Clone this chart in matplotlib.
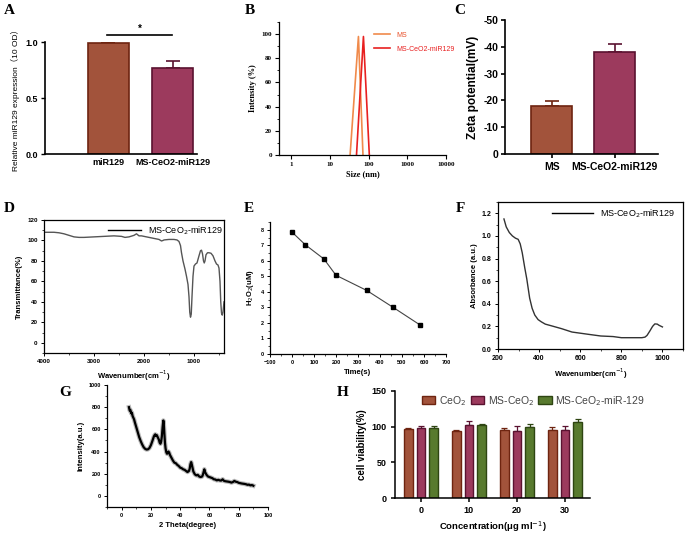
"""
Multi-panel characterization figure (A-H).
"""
import numpy as np
import matplotlib
matplotlib.use("Agg")
import matplotlib.pyplot as plt
from matplotlib.ticker import AutoMinorLocator, FuncFormatter, LogLocator, NullFormatter

SANS = "Liberation Sans"
SERIF = "Liberation Serif"
plt.rcParams["font.family"] = [SANS, "Noto Sans CJK SC", "DejaVu Sans"]

# ---------------- data ----------------
# A: relative miR129 expression
a_groups = ["miR129", "MS-CeO2-miR129"]
a_vals = [0.99, 0.765]
a_errs = [0.008, 0.068]

# B: DLS size distribution
b_ms_size = [33.5, 55, 72]
b_ms_int = [0, 98, 0]
b_mir_size = [49, 74, 105]
b_mir_int = [0, 98, 0]

# C: zeta potential (magnitude, labels shown negative)
c_groups = ["MS", "MS-CeO2-miR129"]
c_vals = [17.9, 37.9]
c_errs = [1.9, 3.3]

# D: FTIR
d_wn = [4000, 3800, 3700, 3600, 3500, 3400, 3300, 3200, 3000, 2800, 2600, 2450,
        2380, 2300, 2200, 2150, 2100, 2050, 2000, 1900, 1800, 1700, 1650, 1620,
        1600, 1500, 1400, 1340, 1300, 1270, 1250, 1220, 1180, 1150, 1120, 1100,
        1085, 1070, 1055, 1040, 1020, 1000, 970, 940, 900, 870, 850, 830, 810,
        795, 780, 760, 730, 700, 660, 620, 580, 550, 520, 500, 480, 465, 450,
        435, 420, 400]
d_tr = [108, 108, 107.5, 106.5, 105, 103.5, 103, 103, 103.5, 104, 104.5, 104,
        103, 103.5, 105, 106.5, 104.5, 104.5, 104, 103, 102, 101, 99.5, 100,
        100.5, 101, 101, 100.5, 99, 95, 88, 80, 72, 65, 57, 45,
        30, 25, 28, 45, 65, 75, 77, 78, 85, 90, 90.5, 87, 80,
        78, 80, 86, 88, 88, 87.5, 85, 80, 77, 76, 73, 60, 40, 29,
        27, 30, 40]

# E: H2O2 consumption
e_time = [0, 60, 145, 200, 340, 460, 582]
e_h2o2 = [7.85, 7.04, 6.12, 5.07, 4.09, 3.0, 1.87]

# F: UV-vis absorbance
f_wl = [229, 240, 255, 270, 285, 298, 308, 318, 330, 340,
        354, 366, 379, 395, 411, 430, 460, 509, 560, 639,
        700, 760, 800, 850, 900, 915, 925, 939, 952, 963,
        975, 983, 1000]
f_abs = [1.15, 1.08, 1.03, 1.0, 0.98, 0.97, 0.93, 0.85, 0.72, 0.62,
         0.45, 0.36, 0.3, 0.26, 0.24, 0.22, 0.205, 0.18, 0.15, 0.13,
         0.115, 0.11, 0.1, 0.1, 0.1, 0.105, 0.12, 0.16, 0.2, 0.222,
         0.22, 0.21, 0.195]

# G: XRD
g_theta = [5, 5.5, 6, 6.5, 7, 7.5, 8, 8.5, 9, 10,
           11, 12, 13, 14, 15, 16, 17, 18, 19, 20,
           21, 22, 22.5, 23, 23.5, 24, 25, 25.5, 26, 26.5,
           27, 27.5, 28, 28.5, 28.8, 29.2, 29.6, 30, 30.5, 31,
           31.5, 32, 32.5, 33, 34, 35, 36, 37, 38, 39,
           40, 41, 42, 43, 44, 45, 45.5, 46, 46.5, 47,
           47.5, 48, 48.5, 49, 50, 51, 52, 53, 54, 55,
           55.5, 56, 56.5, 57, 58, 59, 60, 61, 62, 63,
           64, 65, 66, 67, 68, 69, 70, 71, 72, 73,
           74, 75, 76, 77, 78, 79, 80, 81, 82, 83,
           84, 85, 86, 87, 88, 89, 90]
g_int = [800, 770, 775, 745, 750, 720, 705, 690, 665, 620,
         575, 530, 495, 465, 440, 425, 418, 420, 432, 458,
         495, 535, 548, 555, 540, 548, 520, 505, 480, 470,
         490, 540, 620, 680, 650, 560, 480, 430, 395, 380,
         385, 400, 390, 370, 345, 320, 300, 295, 280, 270,
         255, 250, 240, 235, 225, 215, 220, 225, 245, 285,
         305, 280, 250, 220, 195, 185, 190, 175, 170, 175,
         190, 215, 240, 215, 190, 175, 170, 165, 160, 150,
         148, 140, 145, 140, 138, 150, 135, 132, 130, 128,
         125, 120, 125, 135, 128, 125, 118, 115, 112, 110,
         108, 105, 100, 102, 95, 98, 92]

# H: cell viability
h_conc = ["0", "10", "20", "30"]
h_labels = ["CeO$_2$", "MS-CeO$_2$", "MS-CeO$_2$-miR-129"]
h_ceo2 = [97.2, 94.0, 95.0, 95.3]
h_ceo2_err = [0.5, 1.0, 2.7, 4.7]
h_ms = [98.6, 102.0, 94.4, 95.8]
h_ms_err = [2.0, 5.5, 6.6, 5.6]
h_mir = [98.6, 102.8, 99.0, 106.5]
h_mir_err = [2.0, 1.3, 5.0, 4.5]

# ---------------- style ----------------
BROWN = "#A2533B"
BROWN_E = "#6E2410"
PLUM = "#9C3A5D"
PLUM_E = "#5A1230"
GREEN = "#587A2E"
GREEN_E = "#2E4512"

W, H = 685, 534
fig = plt.figure(figsize=(W / 100, H / 100), dpi=100)


def add_ax(left, top, right, bottom):
    return fig.add_axes([left / W, 1 - bottom / H, (right - left) / W, (bottom - top) / H])


def panel_label(x, y, s):
    fig.text(x / W, 1 - y / H, s, family=SERIF, weight="bold", fontsize=11,
             ha="left", va="center")


def open_axes(ax, lw=1.0):
    ax.spines["top"].set_visible(False)
    ax.spines["right"].set_visible(False)
    for sp in ("left", "bottom"):
        ax.spines[sp].set_linewidth(lw)


def bold_ticks(ax, size, family=SANS):
    for lab in ax.get_xticklabels() + ax.get_yticklabels():
        lab.set_fontweight("bold")
        lab.set_fontsize(size)
        lab.set_family(family)


# ---------------- A ----------------
axA = add_ax(45, 42, 197, 154)
xa = np.arange(len(a_groups))
axA.bar(xa, a_vals, width=0.64, color=[BROWN, PLUM], edgecolor=[BROWN_E, PLUM_E],
        linewidth=1.2, zorder=2)
for x, v, e, c in zip(xa, a_vals, a_errs, [BROWN_E, PLUM_E]):
    axA.errorbar(x, v, yerr=[[0], [e]], color=c, capsize=5, elinewidth=1.2, capthick=1.2, zorder=1)
axA.set_xlim(-0.99, 1.38)
axA.set_ylim(0, 1.0)
axA.set_yticks([0, 0.5, 1.0])
axA.set_xticks(xa)
axA.set_xticklabels(a_groups)
axA.tick_params(axis="x", length=0, pad=3)
axA.tick_params(axis="y", length=3, width=1, pad=2)
open_axes(axA, 1.2)
bold_ticks(axA, 6.5)
axA.set_ylabel("Relative miR129 expression（10 OD）", fontsize=6, labelpad=4,
               family=[SANS, "Noto Sans CJK SC"])
axA.plot([-0.02, 0.99], [1.063, 1.063], color="black", lw=1.2, clip_on=False)
axA.text(0.49, 1.07, "*", ha="center", va="bottom", fontsize=7, weight="bold")

# ---------------- B ----------------
axB = add_ax(279, 22, 446, 155)
axB.plot(b_ms_size, b_ms_int, color="#F08A4B", lw=1.2, label="MS")
axB.plot(b_mir_size, b_mir_int, color="#E82020", lw=1.2, label="MS-CeO2-miR129")
axB.set_xscale("log")
axB.set_xlim(0.49, 10000)
axB.set_ylim(0, 110)
axB.set_xticks([1, 10, 100, 1000, 10000])
axB.set_xticklabels(["1", "10", "100", "1000", "10000"])
axB.xaxis.set_minor_locator(LogLocator(base=10, subs=np.arange(2, 10)))
axB.xaxis.set_minor_formatter(NullFormatter())
axB.set_yticks(np.arange(0, 101, 20))
axB.yaxis.set_minor_locator(AutoMinorLocator(2))
axB.tick_params(which="major", length=3, width=0.8, pad=2)
axB.tick_params(which="minor", length=1.5, width=0.6)
open_axes(axB, 0.9)
bold_ticks(axB, 5, SERIF)
axB.set_xlabel("Size (nm)", family=SERIF, weight="bold", fontsize=6, labelpad=2)
axB.set_ylabel("Intensity (%)", family=SERIF, weight="bold", fontsize=6, labelpad=3)
legB = axB.legend(loc="upper left", bbox_to_anchor=(0.53, 0.975), frameon=False,
                  fontsize=5, handlelength=2.4, labelspacing=1.0, handletextpad=0.8)
for t, c in zip(legB.get_texts(), ["#E8502A", "#E82020"]):
    t.set_color(c)

# ---------------- C ----------------
axC = add_ax(505, 20, 658, 154)
xc = np.arange(len(c_groups))
axC.bar(xc, c_vals, width=0.65, color=[BROWN, PLUM], edgecolor=[BROWN_E, PLUM_E],
        linewidth=1.2, zorder=2)
for x, v, e, c in zip(xc, c_vals, c_errs, [BROWN_E, PLUM_E]):
    axC.errorbar(x, v, yerr=[[0], [e]], color=c, capsize=5, elinewidth=1.2, capthick=1.2, zorder=1)
axC.set_xlim(-0.74, 1.69)
axC.set_ylim(0, 50)
axC.set_yticks(np.arange(0, 51, 10))
axC.yaxis.set_major_formatter(FuncFormatter(lambda v, p: "0" if v == 0 else f"-{int(v)}"))
axC.set_xticks(xc)
axC.set_xticklabels(c_groups)
axC.tick_params(axis="x", length=3, width=1.2, pad=3)
axC.tick_params(axis="y", length=3, width=1.2, pad=2)
open_axes(axC, 1.2)
bold_ticks(axC, 7.5)
axC.set_ylabel("Zeta potential(mV)", fontsize=8.5, weight="bold", labelpad=3)

# ---------------- D ----------------
axD = add_ax(44, 220, 224, 353)
axD.plot(d_wn, d_tr, color="#555555", lw=1.0, label="MS-CeO$_2$-miR129")
axD.set_xlim(4000, 400)
axD.set_ylim(-10, 120)
axD.set_xticks([4000, 3000, 2000, 1000])
axD.xaxis.set_minor_locator(AutoMinorLocator(2))
axD.set_yticks(np.arange(0, 121, 20))
axD.yaxis.set_minor_locator(AutoMinorLocator(2))
axD.tick_params(which="major", length=2.5, width=0.7, pad=2)
axD.tick_params(which="minor", length=1.5, width=0.5)
for sp in axD.spines.values():
    sp.set_linewidth(0.9)
bold_ticks(axD, 4.5)
axD.set_xlabel("Wavenumber(cm$^{-1}$)", fontsize=5.5, weight="bold", labelpad=3)
axD.set_ylabel("Transmittance(%)", fontsize=5.5, weight="bold", labelpad=3)
legD = axD.legend(loc="upper right", bbox_to_anchor=(1.04, 1.03), frameon=False,
                  fontsize=6.5, handlelength=3.6)
for line in legD.get_lines():
    line.set_color("black")
    line.set_linewidth(1.0)

# ---------------- E ----------------
axE = add_ax(270, 222, 446, 354)
axE.plot(e_time, e_h2o2, color="#444444", lw=0.8, marker="s", markersize=3,
         markerfacecolor="black", markeredgecolor="black")
axE.set_xlim(-100, 700)
axE.set_ylim(0, 8.5)
axE.set_xticks(np.arange(-100, 701, 100))
axE.xaxis.set_minor_locator(AutoMinorLocator(2))
axE.set_yticks(np.arange(0, 9, 1))
axE.yaxis.set_minor_locator(AutoMinorLocator(2))
axE.tick_params(which="major", length=2.5, width=0.7, pad=2)
axE.tick_params(which="minor", length=1.5, width=0.5)
open_axes(axE, 0.9)
bold_ticks(axE, 4)
axE.set_xlabel("Time(s)", fontsize=5.5, weight="bold", labelpad=3)
axE.set_ylabel("H$_2$O$_2$(uM)", fontsize=5.5, weight="bold", labelpad=3)

# ---------------- F ----------------
axF = add_ax(498, 202, 683, 349)
axF.plot(f_wl, f_abs, color="#333333", lw=1.0, label="MS-CeO$_2$-miR129")
axF.set_xlim(200, 1100)
axF.set_ylim(0, 1.3)
axF.set_xticks(np.arange(200, 1001, 200))
axF.xaxis.set_minor_locator(AutoMinorLocator(2))
axF.set_yticks(np.round(np.arange(0, 1.21, 0.2), 1))
axF.yaxis.set_minor_locator(AutoMinorLocator(2))
axF.tick_params(which="major", length=2.5, width=0.7, pad=2)
axF.tick_params(which="minor", length=1.5, width=0.5)
for sp in axF.spines.values():
    sp.set_linewidth(0.9)
bold_ticks(axF, 5)
axF.set_xlabel("Wavenumber(cm$^{-1}$)", fontsize=5.5, weight="bold", labelpad=3)
axF.set_ylabel("Absorbance (a.u.)", fontsize=5.5, weight="bold", labelpad=3)
legF = axF.legend(loc="upper right", bbox_to_anchor=(1.0, 1.02), frameon=False,
                  fontsize=6.5, handlelength=4.5)
for line in legF.get_lines():
    line.set_color("black")

# ---------------- G ----------------
axG = add_ax(107, 385, 268, 507)
axG.plot(g_theta, g_int, color="#BBBBBB", lw=3.2)
axG.plot(g_theta, g_int, color="black", lw=1.6)
axG.set_xlim(-10, 100)
axG.set_ylim(-100, 1000)
axG.set_xticks(np.arange(0, 101, 20))
axG.xaxis.set_minor_locator(AutoMinorLocator(2))
axG.set_yticks(np.arange(0, 1001, 200))
axG.yaxis.set_minor_locator(AutoMinorLocator(2))
axG.tick_params(which="major", length=2.5, width=0.7, pad=2)
axG.tick_params(which="minor", length=1.5, width=0.5)
open_axes(axG, 0.9)
bold_ticks(axG, 4)
axG.set_xlabel("2 Theta(degree)", fontsize=5.5, weight="bold", labelpad=3)
axG.set_ylabel("Intensity(a.u.)", fontsize=5.5, weight="bold", labelpad=3)

# ---------------- H ----------------
axH = add_ax(395, 391, 590, 498)
xh = np.arange(len(h_conc))
off = 0.264
bw = 0.18
series = [(h_ceo2, h_ceo2_err, BROWN, BROWN_E), (h_ms, h_ms_err, PLUM, PLUM_E),
          (h_mir, h_mir_err, GREEN, GREEN_E)]
for i, (vals, errs, fc, ec) in enumerate(series):
    pos = xh + (i - 1) * off
    axH.bar(pos, vals, width=bw, color=fc, edgecolor=ec, linewidth=1.0,
            label=h_labels[i], zorder=2)
    axH.errorbar(pos, vals, yerr=[np.zeros(len(errs)), errs], fmt="none", ecolor=ec,
                 capsize=2.5, elinewidth=0.9, capthick=0.9, zorder=1)
axH.set_xlim(-0.54, 3.52)
axH.set_ylim(0, 150)
axH.set_yticks([0, 50, 100, 150])
axH.set_xticks(xh)
axH.set_xticklabels(h_conc)
axH.tick_params(axis="both", length=3, width=1.1, pad=3)
open_axes(axH, 1.1)
bold_ticks(axH, 6.5)
axH.set_ylabel("cell viability(%)", fontsize=7, weight="bold", labelpad=3)
axH.text(0.5, (498 - 527) / 107, "Concentration(μg ml$^{-1}$)", transform=axH.transAxes,
         ha="center", va="center", fontsize=6.8, weight="bold")
axH.legend(loc="upper left", bbox_to_anchor=(0.09, 1.06), ncol=3, frameon=False,
           fontsize=7.5, handlelength=1.3, handleheight=0.8, columnspacing=0.4,
           handletextpad=0.35, labelcolor="#444444")

# panel letters
panel_label(4, 11, "A")
panel_label(245, 11, "B")
panel_label(454, 11, "C")
panel_label(4, 209, "D")
panel_label(244, 208, "E")
panel_label(456, 208, "F")
panel_label(59, 393, "G")
panel_label(337, 393, "H")

fig.savefig("out.png", dpi=100)
